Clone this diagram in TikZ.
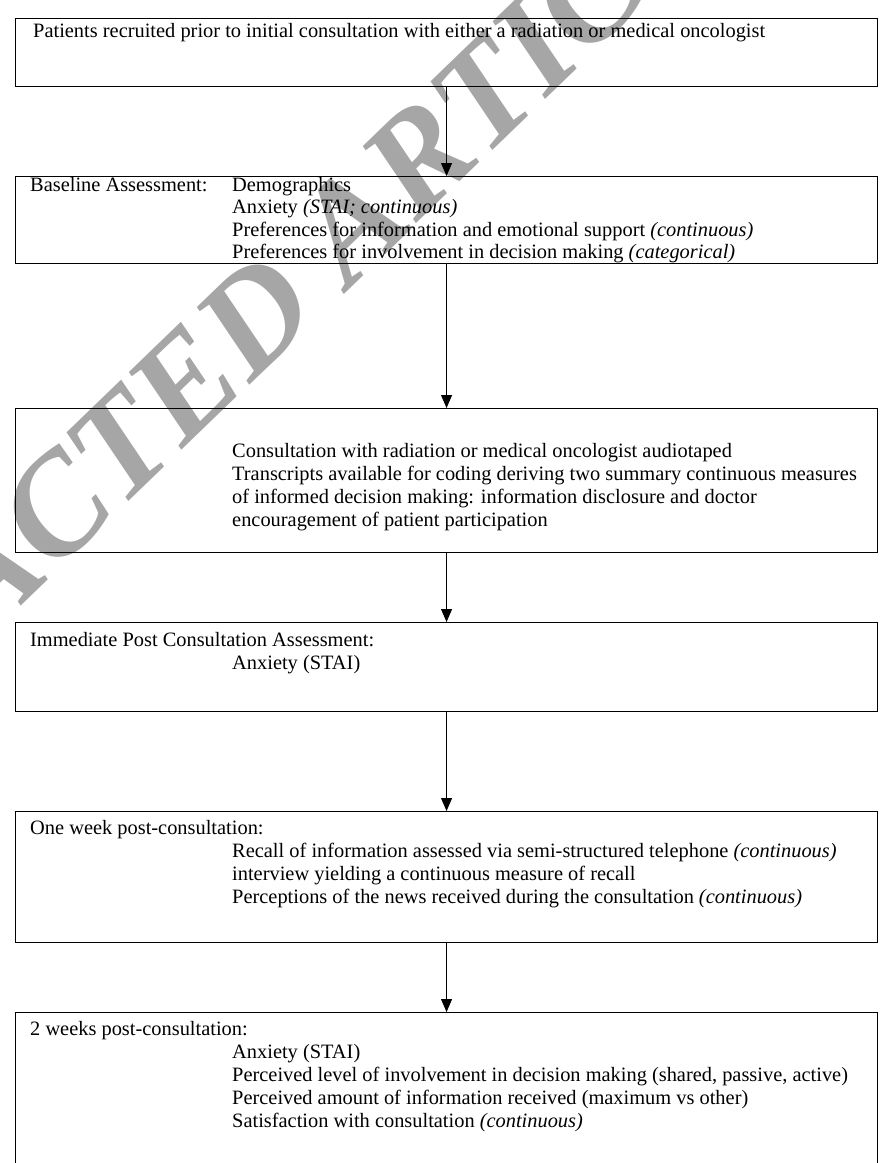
\documentclass[tikz,border=0pt]{standalone}
\usepackage{fontspec}
\setmainfont{Liberation Serif}
\usetikzlibrary{arrows.meta}
\begin{document}
\begin{tikzpicture}[x=1pt,y=-1pt,
  flowbox/.style={draw=black, line width=1.1pt, inner sep=0pt, anchor=north west},
  txt/.style={anchor=base west, inner sep=0pt, font=\fontsize{20.4}{23}\selectfont},
  flowarrow/.style={-{Triangle[length=13pt,width=11pt]}, line width=0.8pt},
  wmark/.style={text=black!35, font=\fontsize{141}{141}\selectfont\bfseries\itshape, inner sep=0pt}
]
\useasboundingbox (0,0) rectangle (879,1163);
\clip (0,0) rectangle (879,1163);
\fill[white] (0,0) rectangle (879,1163);
% watermark
\node[wmark, rotate=44] (wm) at (220,350) {RETRACTED ARTICLE};
% boxes
\node[flowbox, minimum width=862pt, minimum height=68pt] (b1) at (15,18) {};
\node[flowbox, minimum width=862pt, minimum height=87pt] (b2) at (15,176) {};
\node[flowbox, minimum width=862pt, minimum height=144pt] (b3) at (15,408) {};
\node[flowbox, minimum width=862pt, minimum height=89pt] (b4) at (15,622) {};
\node[flowbox, minimum width=862pt, minimum height=131pt] (b5) at (15,811) {};
\node[flowbox, minimum width=862pt, minimum height=180pt] (b6) at (15,1012) {};
% texts
\node[txt] (t1) at (33,37) {Patients recruited prior to initial consultation with either a radiation or medical oncologist};
\node[txt] (t2a) at (30,191) {Baseline Assessment:};
\node[txt] (t2b) at (232,191) {Demographics};
\node[txt] (t2c) at (232,213.5) {Anxiety \textit{(STAI; continuous)}};
\node[txt] (t2d) at (232,236) {Preferences for information and emotional support \textit{(continuous)}};
\node[txt] (t2e) at (232,258.5) {Preferences for involvement in decision making \textit{(categorical)}};
\node[txt] (t3a) at (232,457) {Consultation with radiation or medical oncologist audiotaped};
\node[txt] (t3b) at (232,480) {Transcripts available for coding deriving two summary continuous measures};
\node[txt] (t3c) at (232,503) {of informed decision making: information disclosure and doctor};
\node[txt] (t3d) at (232,526) {encouragement of patient participation};
\node[txt] (t4a) at (30,646) {Immediate Post Consultation Assessment:};
\node[txt] (t4b) at (232,669) {Anxiety (STAI)};
\node[txt] (t5a) at (30,834) {One week post-consultation:};
\node[txt] (t5b) at (232,857) {Recall of information assessed via semi-structured telephone \textit{(continuous)}};
\node[txt] (t5c) at (232,880) {interview yielding a continuous measure of recall};
\node[txt] (t5d) at (232,903) {Perceptions of the news received during the consultation \textit{(continuous)}};
\node[txt] (t6a) at (30,1035) {2 weeks post-consultation:};
\node[txt] (t6b) at (232,1058) {Anxiety (STAI)};
\node[txt] (t6c) at (232,1081) {Perceived level of involvement in decision making (shared, passive, active)};
\node[txt] (t6d) at (232,1104) {Perceived amount of information received (maximum vs other)};
\node[txt] (t6e) at (232,1127) {Satisfaction with consultation \textit{(continuous)}};
% arrows
\draw[flowarrow] (b1.south) -- (b2.north);
\draw[flowarrow] (b2.south) -- (b3.north);
\draw[flowarrow] (b3.south) -- (b4.north);
\draw[flowarrow] (b4.south) -- (b5.north);
\draw[flowarrow] (b5.south) -- (b6.north);
\end{tikzpicture}
\end{document}
